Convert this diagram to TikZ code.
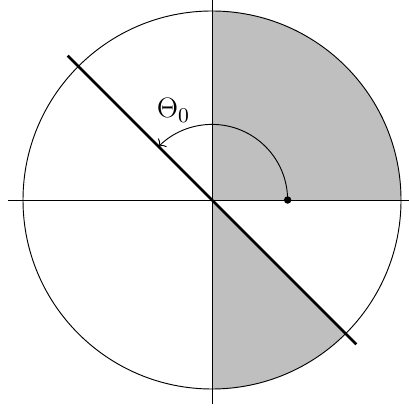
\documentclass[tikz,border=0pt]{standalone}
\usepackage{tikz}
\usetikzlibrary{arrows.meta}

\begin{document}
\begin{tikzpicture}[
            x=2.85cm,
            y=2.85cm,
            sector/.style={
                    fill=black!25
                },
            axis/.style={
                    line width=0.4pt
                },
            cut/.style={
                    line width=1.2pt
                },
            angle/.style={
                    ->,
                    line width=0.4pt
                },
            dot/.style={
                    circle,
                    fill,
                    inner sep=0pt,
                    minimum size=3.2pt
                },
            anglelabel/.style={
                    font=\fontsize{12.7pt}{15pt}\selectfont
                }
        ]


        \useasboundingbox (-1.1217,-1.1058) rectangle (1.037,1.0582);


        \coordinate (O) at (0,0);
        \coordinate (west) at (-1.08,0);
        \coordinate (east) at (1.08,0);
        \coordinate (north) at (0,1.08);
        \coordinate (south) at (0,-1.08);
        \coordinate (cutstart) at (135:1.08);
        \coordinate (cutend) at (-45:1.08);


        \fill[sector] (O) -- (1,0) arc[start angle=0, end angle=90, radius=1] -- cycle;
        \fill[sector] (O) -- (0,-1) arc[start angle=-90, end angle=-45, radius=1] -- cycle;


        \draw[axis](west)--(east);
        \draw[axis](south)--(north);


        \draw (O) circle[radius=1];


        \draw[cut](cutstart)--(cutend);


        \node[dot] (start) at (0.4,0) {};


        \draw[angle] (start.center) arc[start angle=0, end angle=135, radius=0.4];


        \node[anglelabel] (theta) at (-0.204,0.474) {$\Theta_0$};


    \end{tikzpicture}
\end{document}
